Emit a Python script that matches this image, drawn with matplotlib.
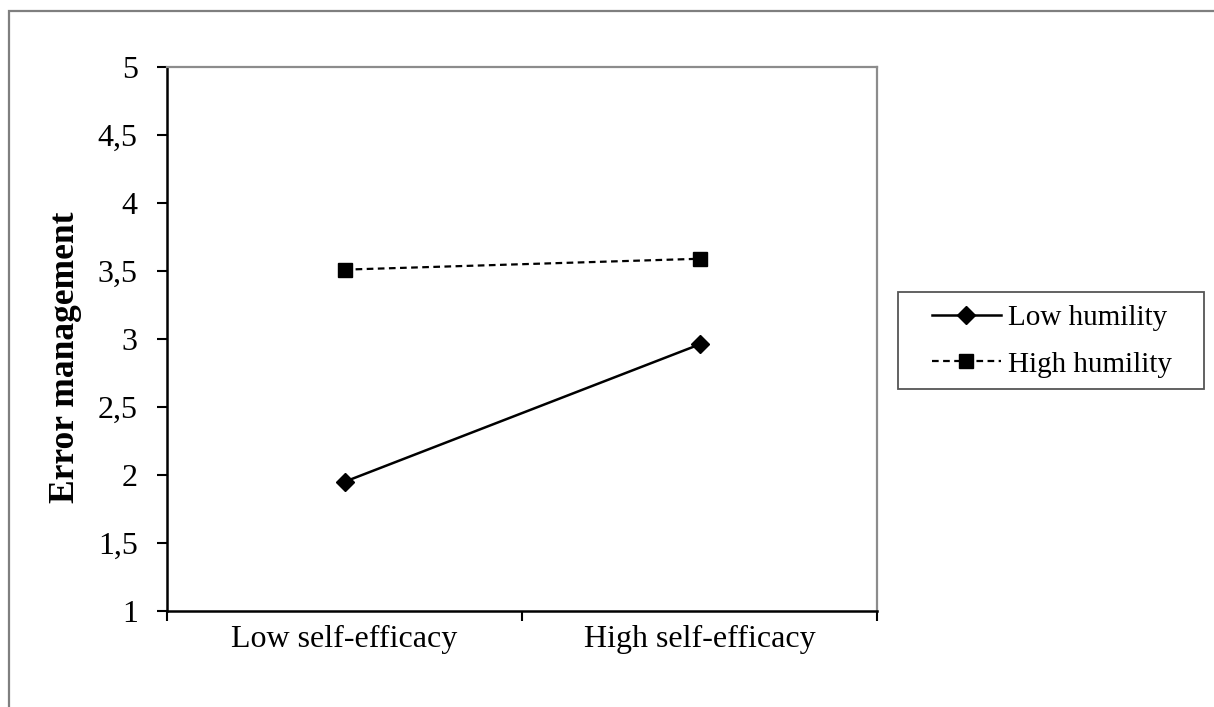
import matplotlib.pyplot as plt
from matplotlib.patches import Rectangle

# categories and cell means
categories = ["Low self-efficacy", "High self-efficacy"]
low_humility = [1.95, 2.96]
high_humility = [3.51, 3.59]
y_ticks = [1, 1.5, 2, 2.5, 3, 3.5, 4, 4.5, 5]
y_tick_labels = ["1", "1,5", "2", "2,5", "3", "3,5", "4", "4,5", "5"]

plt.rcParams['font.family'] = ['Liberation Serif', 'DejaVu Serif']

W, H = 1214, 707
fig = plt.figure(figsize=(W / 100, H / 100), dpi=100)

# outer chart frame (cut off at right and bottom)
fig.patches.append(Rectangle((8.5 / W, -0.1), 1.2, 1 - 10.5 / H + 0.1,
                             transform=fig.transFigure, fill=False,
                             edgecolor='#7f7f7f', linewidth=1.6))

ax = fig.add_axes([167 / W, 1 - 611 / H, (877 - 167) / W, (611 - 67) / H])

xs = [0.5, 1.5]
ax.plot(xs, low_humility, color='black', linestyle='-', linewidth=1.8,
        marker='D', markersize=9.5, label='Low humility')
ax.plot(xs, high_humility, color='black', linestyle=(0, (3, 2)), linewidth=1.6,
        marker='s', markersize=10.5, label='High humility')

ax.set_xlim(0, 2)
ax.set_ylim(1, 5)
ax.set_yticks(y_ticks)
ax.set_yticklabels(y_tick_labels, fontsize=23)
ax.set_xticks([0, 1, 2])
ax.set_xticklabels([])
ax.set_xticks(xs, minor=True)
ax.set_xticklabels(categories, minor=True, fontsize=23)
ax.tick_params(axis='x', which='minor', length=0, pad=10)
ax.tick_params(axis='x', which='major', length=7, width=1.5, direction='out')
ax.tick_params(axis='y', length=7, width=1.5, direction='out', pad=14)

for side in ['left', 'bottom']:
    ax.spines[side].set_linewidth(1.8)
    ax.spines[side].set_color('black')
for side in ['top', 'right']:
    ax.spines[side].set_linewidth(1.6)
    ax.spines[side].set_color('#8c8c8c')

ax.set_ylabel("Error management", fontsize=25.5, fontweight='bold')
ax.yaxis.set_label_coords((82 - 167) / (877 - 167), (611 - 357) / (611 - 67))

# legend box drawn separately so the side padding can be wider than the top
fig.patches.append(Rectangle((898 / W, 1 - 389 / H), (1204 - 898) / W,
                             (389 - 292) / H, transform=fig.transFigure,
                             fill=False, edgecolor='#555555', linewidth=1.3))
leg = fig.legend(loc='center left', bbox_to_anchor=(922 / W, 1 - 341 / H),
                 fontsize=21, frameon=False, handlelength=2.35,
                 handletextpad=0.25, borderpad=0.35, labelspacing=0.7,
                 borderaxespad=0)

fig.savefig("out.png", dpi=100)
